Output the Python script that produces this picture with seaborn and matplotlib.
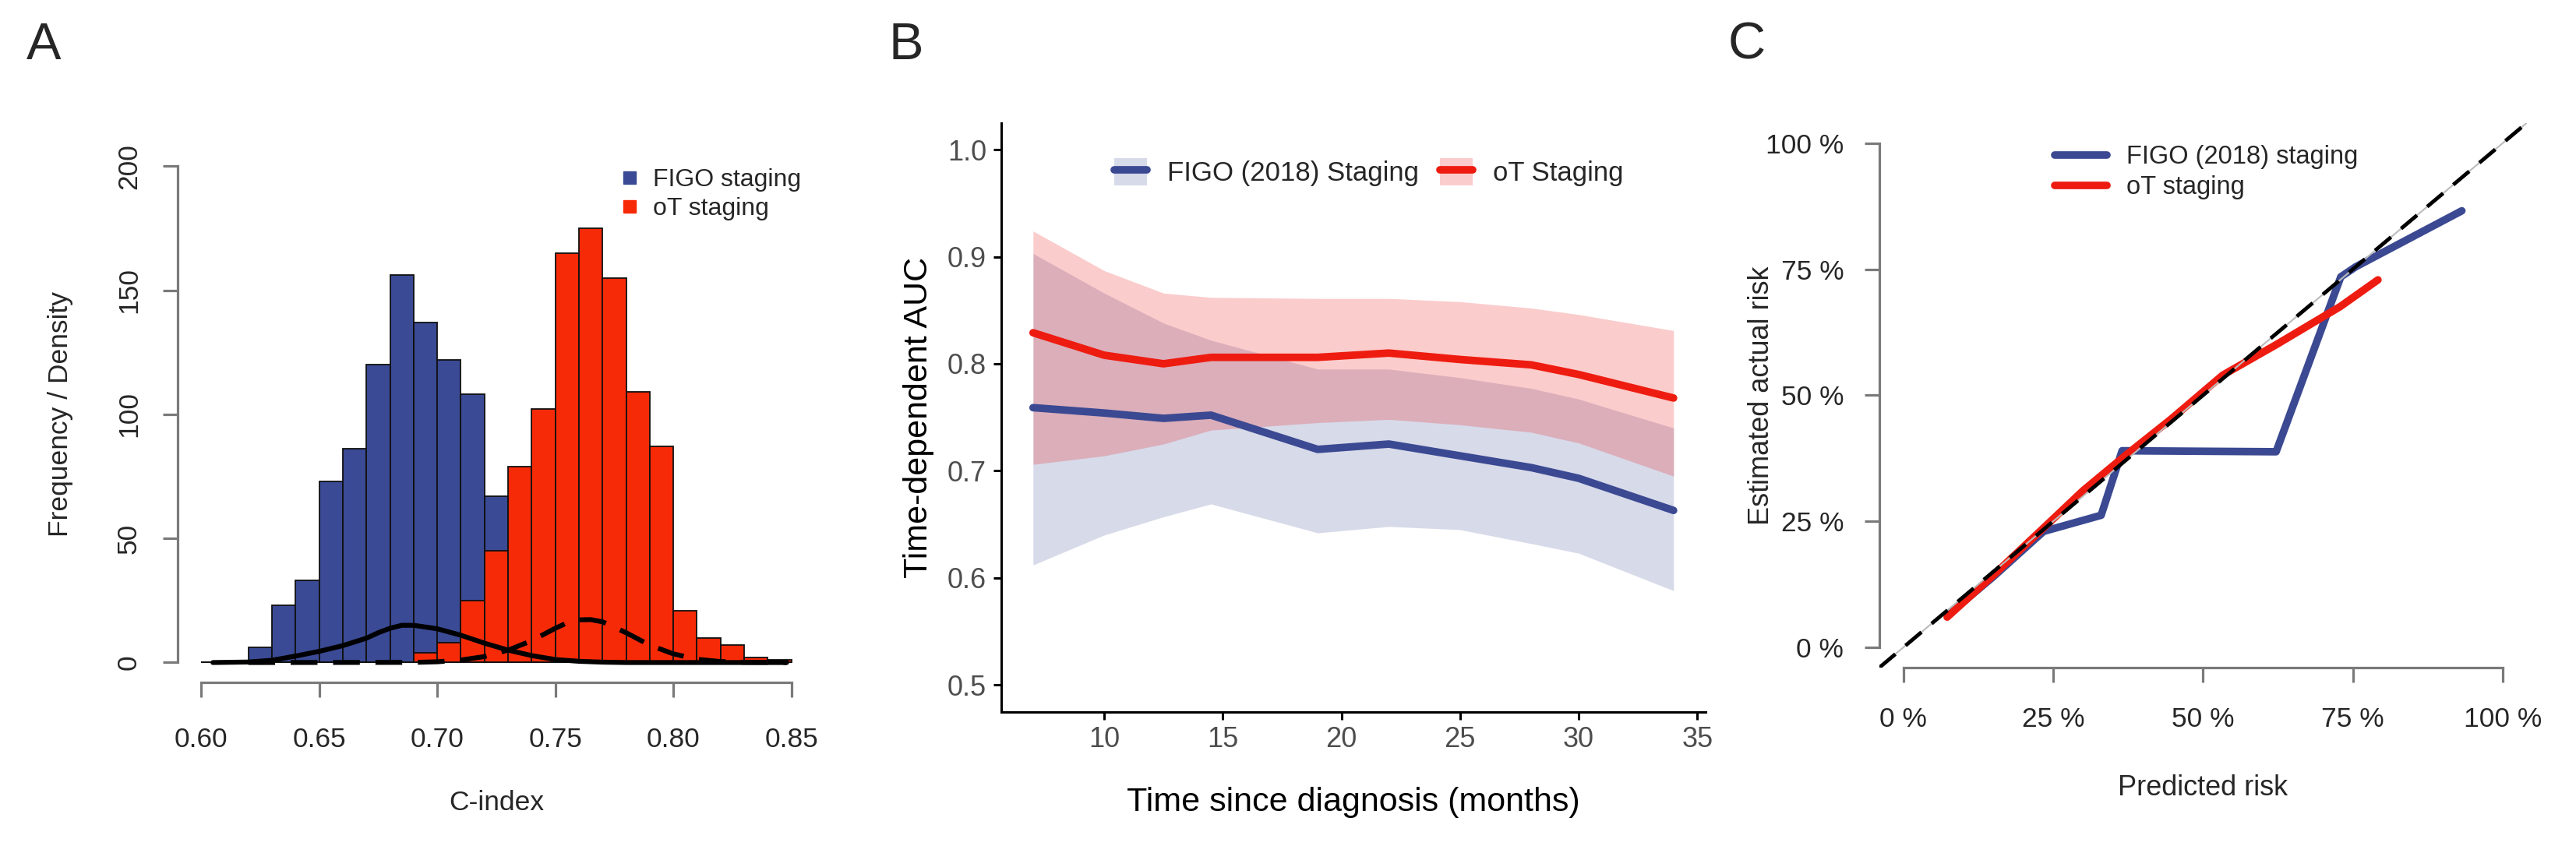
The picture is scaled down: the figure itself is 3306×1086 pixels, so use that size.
import numpy as np
import pandas as pd
import matplotlib
matplotlib.use('Agg')
import matplotlib.pyplot as plt
import seaborn as sns
from matplotlib.lines import Line2D
from matplotlib.patches import Patch

# ---- panel A: bootstrap C-index, counts per 0.01 bin ----
cindex_edges = [round(v, 2) for v in np.linspace(0.60, 0.85, 26)]
figo_counts = [0, 0, 6, 23, 33, 73, 86, 120, 156, 137, 122, 108, 67,
               42, 18, 6, 2, 1, 0, 0, 0, 0, 0, 0, 0]
ot_counts = [0, 0, 0, 0, 0, 0, 0, 0, 0, 4, 8, 25, 45,
             79, 102, 165, 175, 155, 109, 87, 21, 10, 7, 2, 1]

figo_dens_x = [0.605, 0.62, 0.63, 0.64, 0.65, 0.66, 0.67, 0.675, 0.68, 0.685, 0.69,
               0.70, 0.71, 0.72, 0.73, 0.74, 0.75, 0.76, 0.77, 0.78, 0.848]
figo_dens_y = [0, 0.2, 0.9, 2.6, 4.5, 6.8, 9.8, 12.0, 13.8, 15.0, 15.0,
               13.6, 11.0, 7.8, 5.0, 2.8, 1.2, 0.5, 0.15, 0, 0]
ot_dens_x = [0.62, 0.69, 0.70, 0.71, 0.72, 0.73, 0.74, 0.75, 0.755, 0.76, 0.765,
             0.77, 0.78, 0.79, 0.80, 0.81, 0.82, 0.83, 0.848]
ot_dens_y = [0, 0.05, 0.3, 1.0, 2.4, 5.0, 8.8, 13.8, 16.0, 17.2, 17.3,
             16.4, 12.0, 7.0, 3.5, 1.3, 0.4, 0.1, 0]

# ---- panel B: time-dependent AUC ----
auc_months = [7, 10, 12.5, 14.5, 19, 22, 25, 28, 30, 34]
figo_auc = [0.759, 0.754, 0.749, 0.752, 0.720, 0.725, 0.714, 0.703, 0.693, 0.663]
figo_auc_lo = [0.612, 0.640, 0.657, 0.669, 0.642, 0.648, 0.645, 0.632, 0.623, 0.588]
figo_auc_hi = [0.903, 0.866, 0.838, 0.822, 0.795, 0.795, 0.787, 0.777, 0.767, 0.740]
ot_auc = [0.829, 0.808, 0.800, 0.806, 0.806, 0.810, 0.804, 0.799, 0.790, 0.768]
ot_auc_lo = [0.706, 0.714, 0.725, 0.738, 0.745, 0.748, 0.743, 0.736, 0.726, 0.695]
ot_auc_hi = [0.924, 0.887, 0.866, 0.862, 0.861, 0.861, 0.858, 0.852, 0.846, 0.831]

# ---- panel C: calibration ----
figo_pred = [0.075, 0.15, 0.234, 0.33, 0.365, 0.622, 0.73, 0.755, 0.932]
figo_obs = [0.065, 0.14, 0.230, 0.262, 0.390, 0.388, 0.735, 0.755, 0.866]
ot_pred = [0.073, 0.15, 0.226, 0.30, 0.372, 0.447, 0.533, 0.623, 0.729, 0.792]
ot_obs = [0.060, 0.143, 0.228, 0.311, 0.382, 0.453, 0.540, 0.601, 0.676, 0.729]

BLUE = '#3B4992'
RED = '#EE1C10'
HIST_BLUE = '#3A4A94'
HIST_RED = '#F72A08'
AXGREY = '#7A7A7A'
TXT = '#262626'

sns.set_style('ticks')
plt.rcParams['font.family'] = ['Liberation Sans', 'DejaVu Sans']

W, H = 3306, 1086
fig = plt.figure(figsize=(W / 100, H / 100), dpi=100)
axA = fig.add_axes([0.0689, 0.1934, 0.2475, 0.6337])
axB = fig.add_axes([0.3886, 0.1588, 0.2735, 0.6959])
axC = fig.add_axes([0.7296, 0.2110, 0.2512, 0.6435])


def r_axes(ax, xb, yb, xpad):
    # base-R look: detached grey axes spanning only the tick range
    for s in ['top', 'right']:
        ax.spines[s].set_visible(False)
    for s in ['left', 'bottom']:
        ax.spines[s].set_color(AXGREY)
        ax.spines[s].set_linewidth(2.3)
    ax.spines['bottom'].set_bounds(*xb)
    ax.spines['left'].set_bounds(*yb)
    ax.tick_params(bottom=True, left=True, direction='out', length=14, width=2.3,
                   color=AXGREY, labelsize=25.5, labelcolor=TXT, pad=19)
    ax.tick_params(axis='x', pad=xpad)


# ---------------- A ----------------
centers = [round(a + 0.005, 3) for a in cindex_edges[:-1]]
hist_df = pd.DataFrame({'cindex': centers, 'figo': figo_counts, 'ot': ot_counts})
sns.histplot(data=hist_df, x='cindex', weights='figo', bins=cindex_edges, color=HIST_BLUE,
             alpha=1, edgecolor='#101010', linewidth=1.3, ax=axA)
sns.histplot(data=hist_df, x='cindex', weights='ot', bins=cindex_edges, color=HIST_RED,
             alpha=1, edgecolor='#101010', linewidth=1.3, ax=axA)
sns.lineplot(x=figo_dens_x, y=figo_dens_y, color='black', lw=4.5, ax=axA)
sns.lineplot(x=ot_dens_x, y=ot_dens_y, color='black', lw=4.5,
             linestyle=(0, (5.5, 3.2)), ax=axA)
axA.set_xlim(0.59, 0.86)
axA.set_ylim(-8, 208)
axA.set_xticks([0.60, 0.65, 0.70, 0.75, 0.80, 0.85])
axA.set_xticklabels(['0.60', '0.65', '0.70', '0.75', '0.80', '0.85'])
axA.set_yticks([0, 50, 100, 150, 200])
r_axes(axA, (0.60, 0.85), (0, 200), 27)
for lab in axA.get_yticklabels():
    lab.set_rotation(90)
    lab.set_va('center')
axA.set_xlabel('C-index', fontsize=25.5, color=TXT)
axA.set_ylabel('Frequency / Density', fontsize=25.5, color=TXT)
axA.xaxis.set_label_coords(0.5, -0.224)
axA.xaxis.label.set_va('center')
axA.yaxis.set_label_coords(-0.184, 0.5)
axA.yaxis.label.set_va('center')
hA = [Line2D([], [], marker='s', ls='none', color=HIST_BLUE, markersize=11),
      Line2D([], [], marker='s', ls='none', color=HIST_RED, markersize=11)]
legA = axA.legend(hA, ['FIGO staging', 'oT staging'], loc='upper left',
                  bbox_to_anchor=(800 / W, 1 - 216 / H), bbox_transform=fig.transFigure,
                  frameon=False, fontsize=23, handlelength=0.5, handletextpad=0.7,
                  labelspacing=0.22, borderpad=0, borderaxespad=0)
for t in legA.get_texts():
    t.set_color(TXT)

# ---------------- B ----------------
axB.fill_between(auc_months, figo_auc_lo, figo_auc_hi, color=BLUE, alpha=0.2, lw=0)
axB.fill_between(auc_months, ot_auc_lo, ot_auc_hi, color='#EE0000', alpha=0.2, lw=0)
sns.lineplot(x=auc_months, y=figo_auc, color=BLUE, lw=7, ax=axB)
sns.lineplot(x=auc_months, y=ot_auc, color=RED, lw=7, ax=axB)
axB.set_xlim(5.65, 35.35)
axB.set_ylim(0.475, 1.025)
axB.set_xticks([10, 15, 20, 25, 30, 35])
axB.set_yticks([0.5, 0.6, 0.7, 0.8, 0.9, 1.0])
axB.set_yticklabels(['0.5', '0.6', '0.7', '0.8', '0.9', '1.0'])
for s in ['top', 'right']:
    axB.spines[s].set_visible(False)
for s in ['left', 'bottom']:
    axB.spines[s].set_color('black')
    axB.spines[s].set_linewidth(2.2)
axB.tick_params(bottom=True, left=True, direction='out', length=7.5, width=2.2,
                color='black', labelsize=26, labelcolor='#4D4D4D', pad=6)
axB.set_xlabel('Time since diagnosis (months)', fontsize=31, color='black')
axB.set_ylabel('Time-dependent AUC', fontsize=31, color='black')
axB.xaxis.set_label_coords(0.5, -0.154)
axB.xaxis.label.set_va('center')
axB.yaxis.set_label_coords(-0.117, 0.5)
axB.yaxis.label.set_va('center')
hB = [(Patch(facecolor=BLUE, alpha=0.2, lw=0), Line2D([], [], color=BLUE, lw=7)),
      (Patch(facecolor='#EE0000', alpha=0.2, lw=0), Line2D([], [], color=RED, lw=7))]
axB.legend(hB, ['FIGO (2018) Staging', 'oT Staging'], loc='center left', ncol=2,
           bbox_to_anchor=(1430 / W, 1 - 221 / H), bbox_transform=fig.transFigure,
           frameon=False, fontsize=25, handlelength=1.21, handleheight=1.2,
           handletextpad=0.75, columnspacing=0.78, borderpad=0, borderaxespad=0)

# ---------------- C ----------------
sns.lineplot(x=figo_pred, y=figo_obs, color=BLUE, lw=7, sort=False, ax=axC)
sns.lineplot(x=ot_pred, y=ot_obs, color=RED, lw=7, sort=False, ax=axC)
axC.axline((0, 0), slope=1, color='#BBBBBB', lw=1.5, zorder=4)
axC.axline((0, 0), slope=1, color='black', lw=3.5, linestyle=(0, (5.5, 3.5)), zorder=5)
axC.set_xlim(-0.04, 1.04)
axC.set_ylim(-0.04, 1.04)
pct = [0, 0.25, 0.5, 0.75, 1.0]
pct_lab = ['0 %', '25 %', '50 %', '75 %', '100 %']
axC.set_xticks(pct)
axC.set_xticklabels(pct_lab)
axC.set_yticks(pct)
axC.set_yticklabels(pct_lab)
r_axes(axC, (0, 1), (0, 1), 22)
axC.set_xlabel('Predicted risk', fontsize=26, color=TXT)
axC.set_ylabel('Estimated actual risk', fontsize=26, color=TXT)
axC.xaxis.set_label_coords(0.5, -0.222)
axC.xaxis.label.set_va('center')
axC.yaxis.set_label_coords(-0.183, 0.5)
axC.yaxis.label.set_va('center')
hC = [Line2D([], [], color=BLUE, lw=7), Line2D([], [], color=RED, lw=7)]
legC = axC.legend(hC, ['FIGO (2018) staging', 'oT staging'], loc='upper left',
                  bbox_to_anchor=(2637 / W, 1 - 186 / H), bbox_transform=fig.transFigure,
                  frameon=False, fontsize=23.5, handlelength=2.05, handletextpad=0.77,
                  labelspacing=0.25, borderpad=0, borderaxespad=0)
for t in legC.get_texts():
    t.set_color(TXT)

# panel letters
for lx, letter in [(56, 'A'), (1163, 'B'), (2242, 'C')]:
    fig.text(lx / W, 1 - 59 / H, letter, fontsize=48, ha='center', va='center')

fig.savefig('out.png', dpi=100, facecolor='white')
